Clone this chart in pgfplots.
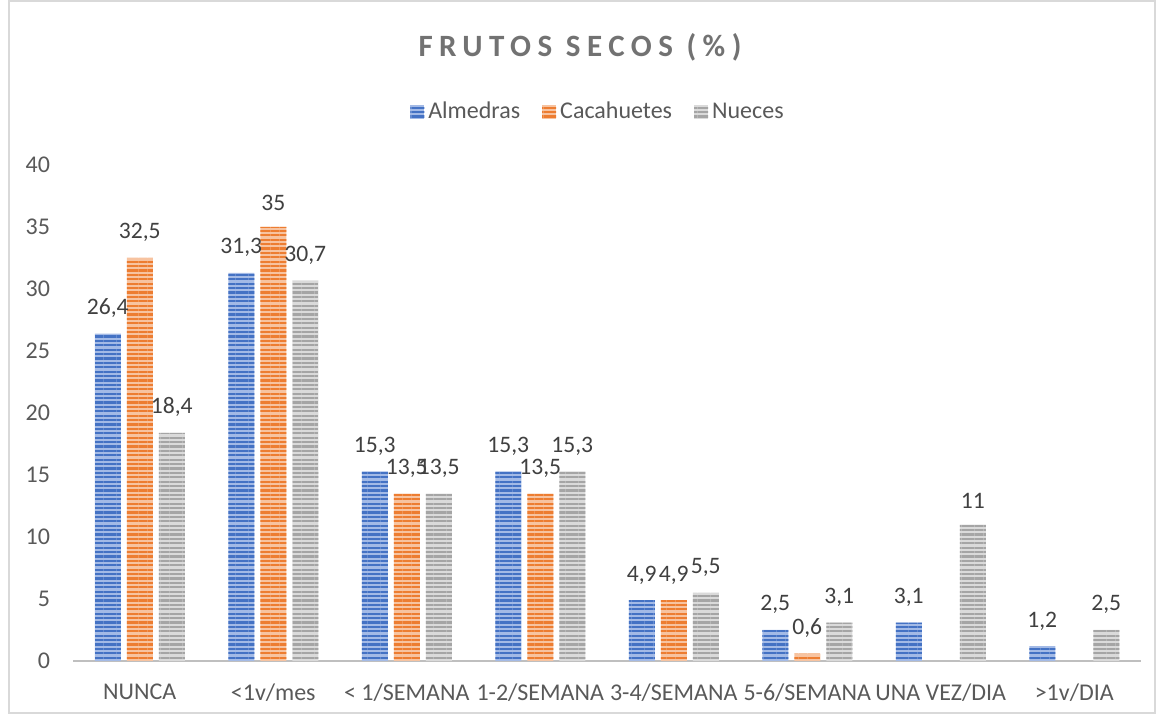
\documentclass[border=0pt]{standalone}
\usepackage{pgfplots}
\pgfplotsset{compat=1.18}
\usepackage{fontspec}
\setmainfont{Carlito}
\newfontfamily\titlefont[LetterSpace=21]{Carlito}
\usetikzlibrary{patterns.meta}
\definecolor{cA}{HTML}{4472C4}
\definecolor{cAl}{HTML}{A3BAE6}
\definecolor{cB}{HTML}{ED7D31}
\definecolor{cBl}{HTML}{F7C3A0}
\definecolor{cC}{HTML}{A5A5A5}
\definecolor{cCl}{HTML}{DADADA}
\definecolor{txt}{HTML}{595959}
\begin{document}
\begin{tikzpicture}
\path (0,0) rectangle (578pt,357.5pt);
\draw[color=black!15, line width=0.6pt] (4.5pt,1pt) rectangle (577.5pt,357pt);
\node[font=\titlefont\bfseries\fontsize{15.5}{18}\selectfont, text=txt!85] at (290pt,334pt) {FRUTOS SECOS (\%)};
\begin{axis}[
  at={(36.5pt,27pt)}, anchor=south west,
  scale only axis, width=534pt, height=248pt,
  ybar, bar width=13pt,
  xmin=-0.5, xmax=7.5, ymin=0, ymax=40,
  xtick={0,...,7},
  xticklabels={NUNCA,{<1v/mes},{< 1/SEMANA},{1-2/SEMANA},{3-4/SEMANA},{5-6/SEMANA},{UNA VEZ/DIA},{>1v/DIA}},
  ytick={0,5,...,40},
  axis x line=bottom, axis y line=left,
  y axis line style={draw=none},
  x axis line style={-, draw=black!25, line width=1.2pt},
  major tick length=0pt,
  tick label style={font=\fontsize{12}{14}\selectfont, text=txt},
  /pgf/number format/assume math mode=true,
  yticklabel style={xshift=-8pt},
  xticklabel style={yshift=-8pt},
  nodes near coords,
  nodes near coords style={font=\fontsize{11.8}{14}\selectfont, text=black!75, /pgf/number format/use comma, /pgf/number format/assume math mode=true, yshift=4.5pt},
  legend style={at={(0.4925,1.107)}, anchor=center, draw=none, legend columns=3,
    font=\fontsize{12}{14}\selectfont, text=txt,
    /tikz/every even column/.append style={column sep=9pt}},
  legend image code/.code={\draw[#1, draw=none] (0pt,-3.5pt) rectangle (7pt,3.5pt);},
  clip=false,
]
\addplot[fill=cAl, draw=none, bar shift=-16pt,
  postaction={pattern={Lines[angle=0,distance=2.2pt,line width=1.1pt]}, pattern color=cA}]
  coordinates {(0,26.4) (1,31.3) (2,15.3) (3,15.3) (4,4.9) (5,2.5) (6,3.1) (7,1.2)};
\addplot[fill=cBl, draw=none, bar shift=0pt,
  postaction={pattern={Lines[angle=0,distance=2.2pt,line width=1.1pt]}, pattern color=cB}]
  coordinates {(0,32.5) (1,35) (2,13.5) (3,13.5) (4,4.9) (5,0.6)};
\addplot[fill=cCl, draw=none, bar shift=16pt,
  postaction={pattern={Lines[angle=0,distance=2.2pt,line width=1.1pt]}, pattern color=cC}]
  coordinates {(0,18.4) (1,30.7) (2,13.5) (3,15.3) (4,5.5) (5,3.1) (6,11) (7,2.5)};
\legend{Almedras,Cacahuetes,Nueces}
\end{axis}
\end{tikzpicture}
\end{document}
